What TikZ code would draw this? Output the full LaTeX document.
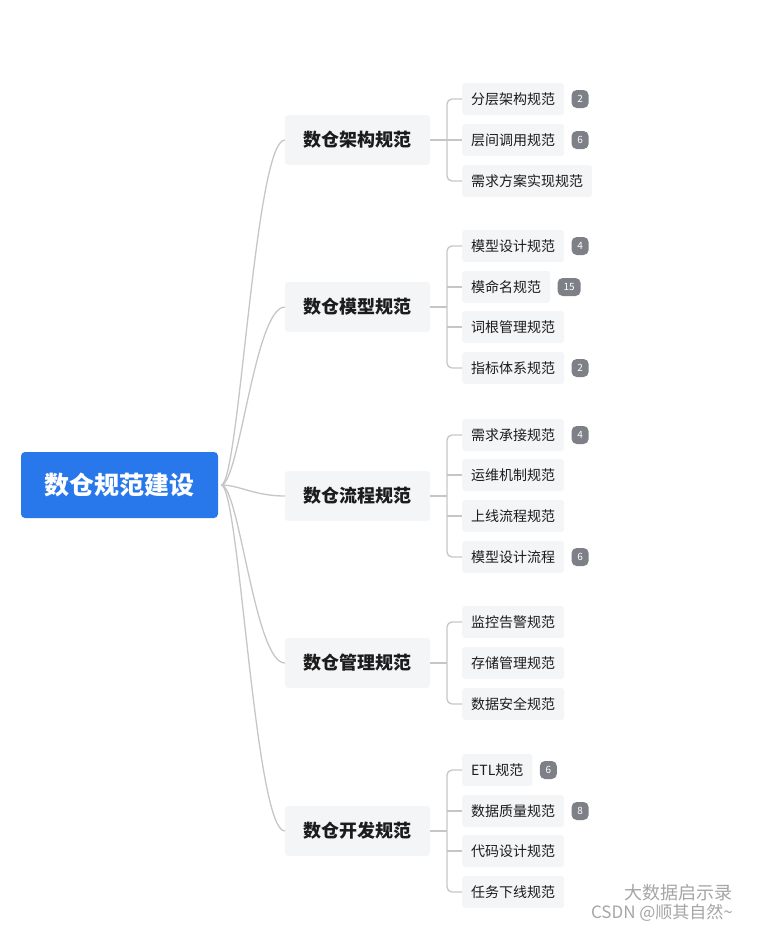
\documentclass[tikz,border=0pt]{standalone}
\usepackage{fontspec}
\setmainfont{Noto Sans CJK SC}
\usetikzlibrary{positioning}
\definecolor{rootblue}{RGB}{40,120,235}
\definecolor{boxgray}{RGB}{244,245,247}
\definecolor{linegray}{RGB}{198,198,198}
\definecolor{badgegray}{RGB}{125,128,134}
\definecolor{textdark}{RGB}{28,28,28}
\definecolor{markgray}{RGB}{165,165,165}
\tikzset{
  root/.style={fill=rootblue,rounded corners=4pt,text=white,
    font=\fontsize{25}{30}\selectfont\bfseries,minimum width=197,minimum height=66},
  topic/.style={fill=boxgray,rounded corners=3pt,text=textdark,
    font=\fontsize{18}{22}\selectfont\bfseries,minimum width=145,minimum height=50},
  sub/.style={fill=boxgray,rounded corners=3pt,text=textdark,anchor=west,
    font=\fontsize{14}{17}\selectfont,inner xsep=9pt,minimum height=32},
  badge/.style={fill=badgegray,rounded corners=5pt,text=white,inner sep=1pt,
    font=\fontsize{10}{11}\selectfont,minimum height=18,minimum width=17},
  link/.style={linegray,line width=1.3pt},
}
\begin{document}
\begin{tikzpicture}[x=1pt,y=-1pt]
  \useasboundingbox (0,0) rectangle (756,930);
  % root and topics
  \node[root] (root) at (119.5,485) {数仓规范建设};
  \node[topic] (t1) at (357.5,140) {数仓架构规范};
  \node[topic] (t2) at (357.5,307) {数仓模型规范};
  \node[topic] (t3) at (357.5,496) {数仓流程规范};
  \node[topic] (t4) at (357.5,663) {数仓管理规范};
  \node[topic] (t5) at (357.5,831) {数仓开发规范};
  \foreach \t in {t1,t2,t3,t4,t5}
    \draw[link] ([xshift=3pt]root.east) .. controls +(18,0) and +(-30,0) .. (\t.west);
  % bracket joints
  \coordinate (j1) at (447,140); \coordinate (j2) at (447,307);
  \coordinate (j3) at (447,496); \coordinate (j4) at (447,663);
  \coordinate (j5) at (447,831);
  % architecture
  \node[sub] (a1) at (462,99) {分层架构规范};
  \node[sub] (a2) at (462,140) {层间调用规范};
  \node[sub] (a3) at (462,181) {需求方案实现规范};
  \node[badge,right=7pt of a1] (na1) {2};
  \node[badge,right=7pt of a2] (na2) {6};
  % model
  \node[sub] (b1) at (462,246) {模型设计规范};
  \node[sub] (b2) at (462,287) {模命名规范};
  \node[sub] (b3) at (462,327) {词根管理规范};
  \node[sub] (b4) at (462,368) {指标体系规范};
  \node[badge,right=7pt of b1] (nb1) {4};
  \node[badge,right=7pt of b2,minimum width=23] (nb2) {15};
  \node[badge,right=7pt of b4] (nb4) {2};
  % process
  \node[sub] (c1) at (462,435) {需求承接规范};
  \node[sub] (c2) at (462,475) {运维机制规范};
  \node[sub] (c3) at (462,516) {上线流程规范};
  \node[sub] (c4) at (462,557) {模型设计流程};
  \node[badge,right=7pt of c1] (nc1) {4};
  \node[badge,right=7pt of c4] (nc4) {6};
  % management
  \node[sub] (d1) at (462,622) {监控告警规范};
  \node[sub] (d2) at (462,663) {存储管理规范};
  \node[sub] (d3) at (462,704) {数据安全规范};
  % development
  \node[sub] (e1) at (462,770) {ETL规范};
  \node[sub] (e2) at (462,811) {数据质量规范};
  \node[sub] (e3) at (462,851) {代码设计规范};
  \node[sub] (e4) at (462,892) {任务下线规范};
  \node[badge,right=7pt of e1] (ne1) {6};
  \node[badge,right=7pt of e2] (ne2) {8};
  % brackets
  \draw[link] (t1.east) -- (j1);
  \draw[link,rounded corners=5pt] (a1.west) -| (j1) |- (a3.west);
  \draw[link] (j1 |- a2.west) -- (a2.west);
  \draw[link] (t2.east) -- (j2);
  \draw[link,rounded corners=5pt] (b1.west) -| (j2) |- (b4.west);
  \draw[link] (j2 |- b2.west) -- (b2.west);
  \draw[link] (j2 |- b3.west) -- (b3.west);
  \draw[link] (t3.east) -- (j3);
  \draw[link,rounded corners=5pt] (c1.west) -| (j3) |- (c4.west);
  \draw[link] (j3 |- c2.west) -- (c2.west);
  \draw[link] (j3 |- c3.west) -- (c3.west);
  \draw[link] (t4.east) -- (j4);
  \draw[link,rounded corners=5pt] (d1.west) -| (j4) |- (d3.west);
  \draw[link] (t5.east) -- (j5);
  \draw[link,rounded corners=5pt] (e1.west) -| (j5) |- (e4.west);
  \draw[link] (j5 |- e2.west) -- (e2.west);
  \draw[link] (j5 |- e3.west) -- (e3.west);
  % watermark
  \node[markgray,font=\fontsize{18}{20}\selectfont] (wm1) at (678,893) {大数据启示录};
  \node[markgray,font=\fontsize{17}{19}\selectfont] (wm2) at (662,913) {CSDN @顺其自然\textasciitilde};
\end{tikzpicture}
\end{document}
